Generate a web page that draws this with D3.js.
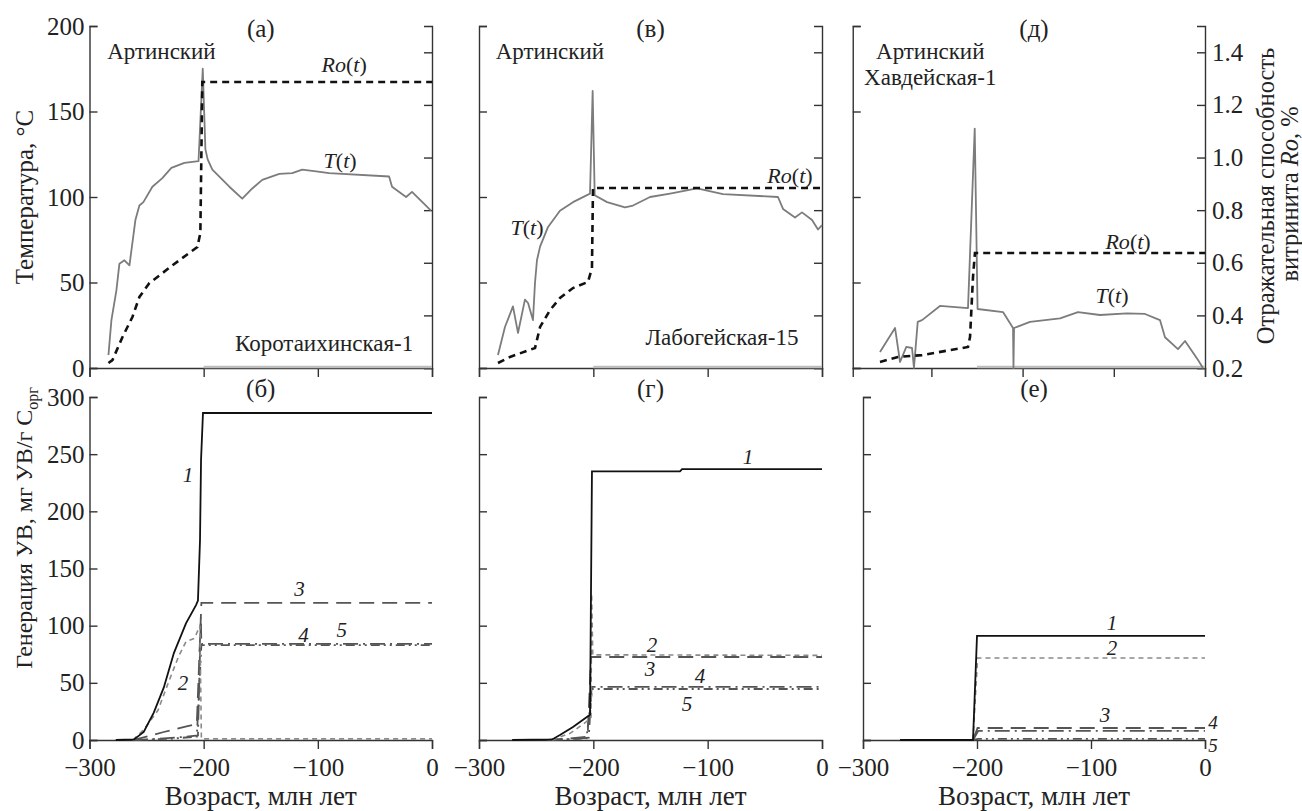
<!DOCTYPE html>
<html>
<head>
<meta charset="utf-8">
<script src="https://cdn.jsdelivr.net/npm/d3@7"></script>
<style>
body { margin: 0; background: #fff; }
svg, svg text { font-family: "Liberation Serif", "DejaVu Serif", serif; }
.axis path, .axis line { stroke: #333; stroke-width: 1.4; }
.axis text { font-size: 25px; fill: #222; }
.note { font-size: 23px; fill: #222; }
.num { font-size: 21px; }
.it { font-style: italic; }
</style>
</head>
<body>
<svg id="chart" width="1302" height="811"></svg>
<script>
const FONT = "'Liberation Serif', 'DejaVu Serif', serif";

// Tick values
const ageTicks = [-300, -200, -100, 0];
const ageTicksD = [-240, -160, -80, 0];   // odd frame of panel (д)
const tempTicks = [0, 50, 100, 150, 200];
const roTicks = [0.2, 0.4, 0.6, 0.8, 1.0, 1.2, 1.4];
const genTicks = [0, 50, 100, 150, 200, 250, 300];

// Temperature T(t), °C  [age, value]
const tempA = [[-283.4, 7.6], [-280.8, 28], [-276.4, 45.6], [-273.8, 61], [-269.4, 63], [-265, 60],
  [-259.8, 86.5], [-256.3, 95], [-252.8, 97], [-244.9, 106], [-236.2, 111], [-228.3, 117],
  [-216.9, 120], [-204.5, 121], [-200.8, 175], [-198.5, 128], [-196.5, 122], [-192.4, 116],
  [-177.5, 106], [-166.2, 99], [-157.4, 105], [-148.7, 110], [-133.8, 113.5], [-122.4, 114],
  [-113.7, 116], [-101.5, 115], [-90.1, 114], [-37.6, 112], [-35, 106], [-22.7, 100],
  [-17.5, 103], [-0.9, 92]];
const tempV = [[-283.4, 7.6], [-277.3, 24], [-270.3, 36], [-265.9, 20.5], [-259.8, 40], [-257.1, 38],
  [-252.8, 28], [-251, 50], [-249.3, 63], [-246.6, 71], [-239.6, 82.5], [-229.2, 92],
  [-217.8, 97], [-202.9, 102], [-200.6, 162], [-198.8, 101], [-188, 97], [-172.3, 94],
  [-165.3, 95], [-150.4, 100], [-132.9, 102], [-109.3, 105], [-86.6, 101.7], [-38.5, 100],
  [-34.1, 93], [-23.6, 88], [-17.5, 91], [-8.7, 86.5], [-3.5, 81], [0, 83.6]];
const tempD = [[-285.1, 9.4], [-271.9, 23.4], [-267.5, 3.5], [-262, 12.3], [-257, 11.7], [-255.3, 0],
  [-252, 27], [-248.2, 28], [-232.5, 36.3], [-207.9, 35], [-202, 140], [-199.5, 34.5],
  [-177.2, 32.7], [-168.4, 23.4], [-168, 0], [-167.5, 23.4], [-153.5, 27], [-127.2, 29],
  [-111.4, 32.7], [-92.1, 31], [-68.4, 32], [-52.6, 31.6], [-39.5, 28], [-35.1, 18],
  [-23.7, 11], [-17.5, 15.8], [-6.1, 4.7], [-1.8, 0]];
const tempBase = [[-200, 0.6], [0, 0.6]];

// Vitrinite reflectance Ro(t), %
const roA = [[-283.4, 0.219], [-279.9, 0.23], [-271.1, 0.318], [-262.4, 0.394], [-256.3, 0.47],
  [-247.5, 0.523], [-240.5, 0.546], [-227.4, 0.59], [-205.5, 0.66], [-202.9, 0.713],
  [-201.2, 1.287], [0, 1.287]];
const roV = [[-283.4, 0.219], [-272.9, 0.242], [-251, 0.276], [-246.6, 0.356], [-237.9, 0.42],
  [-229.2, 0.466], [-217.8, 0.504], [-204.7, 0.527], [-201.2, 0.58], [-200.3, 0.884], [0, 0.884]];
const roD = [[-285.1, 0.223], [-269.3, 0.242], [-248.2, 0.249], [-207.9, 0.28], [-206.1, 0.318],
  [-203.5, 0.546], [-201.8, 0.637], [0, 0.637]];

// Hydrocarbon generation, mg HC / g Corg  (curves 1..5)
const genB = [
  [[-277, 0], [-261, 0.5], [-252.5, 7], [-243.7, 24], [-234.9, 46], [-226.1, 76], [-215.5, 102],
   [-206.7, 118], [-205, 122], [-203.2, 175], [-202.3, 245], [-200.6, 286], [0, 286]],
  [[-262, 0], [-252.5, 9], [-240, 26], [-231, 50], [-222, 73], [-215.5, 86], [-208, 89],
   [-203.3, 100], [-202.5, 40], [-202, 1], [0, 1]],
  [[-262, 0], [-250, 3], [-235, 7], [-215, 12], [-206, 14], [-202, 120], [0, 120]],
  [[-262, 0], [-240, 1], [-220, 2.5], [-205, 4], [-202.5, 107], [-202, 84], [0, 84]],
  [[-262, 0], [-230, 1], [-206, 3], [-202, 83], [0, 83]]
];
const genG = [
  [[-271, 0], [-236, 0.5], [-229.2, 4.4], [-217.8, 11.4], [-202.9, 22], [-201.2, 235],
   [-124.2, 235], [-122.4, 237], [0, 237]],
  [[-236, 0], [-220, 6], [-206, 16], [-202, 20], [-201.5, 128], [-200.5, 74.5], [0, 74]],
  [[-240, 0], [-220, 1.5], [-205, 3], [-202, 72.6], [0, 72.6]],
  [[-240, 0], [-215, 1], [-204, 2], [-201.5, 46.4], [0, 46.4]],
  [[-240, 0], [-206, 1.5], [-201, 44.6], [0, 44.6]]
];
const genE = [
  [[-267.5, 0], [-203.5, 0], [-200, 91], [0, 91]],
  [[-203.5, 0], [-199.5, 71.7], [0, 71.7]],
  [[-203.5, 0], [-199.5, 10.5], [0, 10.5]],
  [[-203.5, 0], [-199, 7.9], [0, 7.9]],
  [[-203.5, 0], [-199, 1], [0, 1]]
];

// Text annotations [age, value, text]
const notesA = [[-237, 185, "Артинский"], [-94.5, 14.6, "Коротаихинская-1"]];
const notesV = [[-238, 185, "Артинский"], [-87.5, 18, "Лабогейская-15"]];
const notesD = [[-241, 185, "Артинский"], [-241, 169.6, "Хавдейская-1"]];
const curveLabelsA = [[-77, 178, "Ro"], [-80.5, 121.6, "T"]];
const curveLabelsV = [[-28, 112.9, "Ro"], [-258, 82.5, "T"]];
const curveLabelsD = [[-67.5, 74, "Ro"], [-81.6, 42.7, "T"]];
const numLabelsB = [[-213.8, 232, "1"], [-218, 50, "2"], [-116, 132, "3"], [-112.6, 92, "4"], [-79, 96, "5"]];
const numLabelsG = [[-64.7, 247.5, "1"], [-148.7, 83, "2"], [-150.4, 62, "3"], [-106.7, 56, "4"], [-118, 31.5, "5"]];
const numLabelsE = [[-81.6, 102.3, "1"], [-81.6, 80.5, "2"], [-87.7, 21.9, "3"], [7, 15.5, "4"], [7, -5, "5"]];

// Layout
const cols = [[89.5, 432], [479, 822], [863, 1205]];
const topY = [368, 26];
const botY = [740, 397];
const TICK = 8;

const svg = d3.select("#chart").attr("font-family", FONT);
svg.append("rect").attr("width", 1302).attr("height", 811).attr("fill", "#fff");

const genStyles = [
  { stroke: "#111", dash: null, width: 1.8 },
  { stroke: "#8a8a8a", dash: "5,4", width: 1.6 },
  { stroke: "#555", dash: "15,8", width: 1.8 },
  { stroke: "#555", dash: "15,5,2,5", width: 1.8 },
  { stroke: "#555", dash: "9,4,2,4,2,4", width: 1.8 }
];

function styleAxis(sel) {
  sel.attr("font-family", FONT).attr("font-size", 25);
  sel.selectAll("text").attr("fill", "#222");
}

function drawTop(i, temp, ro, notes, curveLabels, letter, opts) {
  const [x0, x1] = cols[i];
  const x = d3.scaleLinear().domain([-300, 0]).range([x0, x1]);
  const y = d3.scaleLinear().domain([0, 200]).range(topY);
  const yRo = d3.scaleLinear().domain([0.2, 1.5]).range(topY);
  const g = svg.append("g");

  // frame x-axis (panel д has a wider, oddly ticked frame)
  const xf = opts.frameStart
    ? d3.scaleLinear().domain([opts.frameStart, 0]).range([x(opts.frameStart), x1])
    : x;
  g.append("g").attr("class", "axis").attr("transform", `translate(0,${topY[0]})`)
    .call(d3.axisBottom(xf).tickValues(opts.xTicks || ageTicks).tickSizeOuter(0).tickSize(9).tickFormat(""))
    .call(styleAxis);
  g.append("g").attr("class", "axis").attr("transform", `translate(${xf.range()[0]},0)`)
    .call(d3.axisLeft(y).tickValues(tempTicks).tickSizeOuter(0).tickSize(-TICK).tickPadding(5)
      .tickFormat(opts.leftLabels ? d3.format("d") : ""))
    .call(styleAxis);
  g.append("g").attr("class", "axis").attr("transform", `translate(${x1},0)`)
    .call(d3.axisRight(yRo).tickValues(roTicks).tickSizeOuter(0).tickSize(-TICK).tickPadding(7)
      .tickFormat(opts.rightLabels ? d3.format(".1f") : ""))
    .call(styleAxis);

  const line = d3.line().x(d => x(d[0])).y(d => y(d[1]));
  const lineRo = d3.line().x(d => x(d[0])).y(d => yRo(d[1]));
  g.append("path").datum(tempBase).attr("d", line)
    .attr("fill", "none").attr("stroke", "#bdbdbd").attr("stroke-width", 2.5);
  g.append("path").datum(temp).attr("d", line)
    .attr("fill", "none").attr("stroke", "#7c7c7c").attr("stroke-width", 1.8).attr("stroke-linejoin", "round");
  g.append("path").datum(ro).attr("d", lineRo)
    .attr("fill", "none").attr("stroke", "#111").attr("stroke-width", 2.6).attr("stroke-dasharray", "7,5");

  g.selectAll(".nt").data(notes).join("text").attr("class", "note nt")
    .attr("x", d => x(d[0])).attr("y", d => y(d[1])).attr("text-anchor", "middle")
    .attr("dominant-baseline", "central").text(d => d[2]);
  const cl = g.selectAll(".cl").data(curveLabels).join("text").attr("class", "note cl")
    .style("font-size", "22px")
    .attr("x", d => x(d[0])).attr("y", d => y(d[1])).attr("text-anchor", "middle")
    .attr("dominant-baseline", "central");
  cl.append("tspan").attr("class", "it").text(d => d[2]);
  cl.append("tspan").text("(");
  cl.append("tspan").attr("class", "it").text("t");
  cl.append("tspan").text(")");

  g.append("text").attr("class", "note").style("font-size", "25px")
    .attr("x", (x0 + x1) / 2).attr("y", 28).attr("text-anchor", "middle")
    .attr("dominant-baseline", "central").text(letter);
}

function drawBottom(i, gens, labels, letter, leftLabels) {
  const [x0, x1] = cols[i];
  const x = d3.scaleLinear().domain([-300, 0]).range([x0, x1]);
  const y = d3.scaleLinear().domain([0, 300]).range(botY);
  const g = svg.append("g");

  g.append("g").attr("class", "axis").attr("transform", `translate(0,${botY[0]})`)
    .call(d3.axisBottom(x).tickValues(ageTicks).tickSizeOuter(0).tickSize(9).tickPadding(9))
    .call(styleAxis);
  g.append("g").attr("class", "axis").attr("transform", `translate(${x0},0)`)
    .call(d3.axisLeft(y).tickValues(genTicks).tickSizeOuter(0).tickSize(-TICK).tickPadding(5)
      .tickFormat(leftLabels ? d3.format("d") : ""))
    .call(styleAxis);

  const line = d3.line().x(d => x(d[0])).y(d => y(d[1]));
  for (let k = gens.length - 1; k >= 0; k--) {
    const s = genStyles[k];
    g.append("path").datum(gens[k]).attr("d", line)
      .attr("fill", "none").attr("stroke", s.stroke).attr("stroke-width", s.width)
      .attr("stroke-dasharray", s.dash);
  }
  g.selectAll(".num").data(labels).join("text").attr("class", "note it num")
    .attr("x", d => x(d[0])).attr("y", d => y(d[1])).attr("text-anchor", "middle")
    .attr("dominant-baseline", "central").text(d => d[2]);

  g.append("text").attr("class", "note").style("font-size", "25px")
    .attr("x", (x0 + x1) / 2).attr("y", 388).attr("text-anchor", "middle")
    .attr("dominant-baseline", "central").text(letter);
  g.append("text").attr("class", "note").style("font-size", "27px")
    .attr("x", (x0 + x1) / 2).attr("y", 796).attr("text-anchor", "middle")
    .attr("dominant-baseline", "central").text("Возраст, млн лет");
}

drawTop(0, tempA, roA, notesA, curveLabelsA, "(а)", { leftLabels: true });
drawTop(1, tempV, roV, notesV, curveLabelsV, "(в)", {});
drawTop(2, tempD, roD, notesD, curveLabelsD, "(д)", { rightLabels: true, frameStart: -309, xTicks: ageTicksD });
drawBottom(0, genB, numLabelsB, "(б)", true);
drawBottom(1, genG, numLabelsG, "(г)", false);
drawBottom(2, genE, numLabelsE, "(е)", false);

// (е) labels 4 and 5 sit tightly stacked; keep them a touch smaller
svg.selectAll(".num").filter(d => d[0] > 0).style("font-size", "19px");

// Axis titles
svg.append("text").attr("class", "note").style("font-size", "25px")
  .attr("transform", "translate(24,197) rotate(-90)").attr("text-anchor", "middle")
  .attr("dominant-baseline", "central").text("Температура, °С");
const gt = svg.append("text").attr("class", "note").style("font-size", "24px")
  .attr("transform", "translate(24,528) rotate(-90)").attr("text-anchor", "middle")
  .attr("dominant-baseline", "central");
gt.append("tspan").text("Генерация УВ, мг УВ/г С");
gt.append("tspan").attr("baseline-shift", "sub").style("font-size", "16px").text("орг");

svg.append("text").attr("class", "note").style("font-size", "24.5px")
  .attr("transform", "translate(1265,196) rotate(-90)").attr("text-anchor", "middle")
  .attr("dominant-baseline", "central").text("Отражательная способность");
const rt = svg.append("text").attr("class", "note").style("font-size", "24.5px")
  .attr("transform", "translate(1289,194) rotate(-90)").attr("text-anchor", "middle")
  .attr("dominant-baseline", "central");
rt.append("tspan").text("витринита ");
rt.append("tspan").attr("class", "it").text("Ro");
rt.append("tspan").text(", %");
</script>
</body>
</html>
